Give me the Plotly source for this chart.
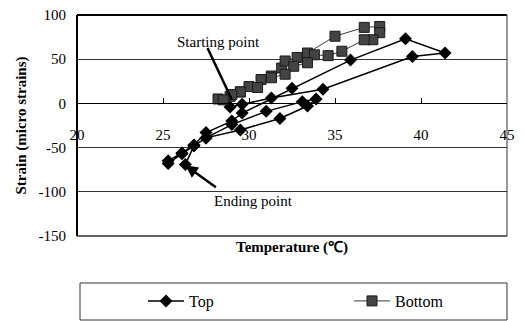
import plotly.graph_objects as go

# ---- data ----
top_temp = [28.9, 29.6, 31.3, 34.3, 39.5, 41.4, 39.1, 35.9, 32.5, 29.6, 29.0, 27.5, 26.8, 26.1, 25.3,
            25.3, 26.1, 26.8, 27.5, 29.0, 31.0, 33.1, 33.9, 33.4, 31.8, 29.5, 27.5, 26.8, 26.3]
top_strain = [-4, -1, 6, 16, 53, 57, 73, 49, 17, -11, -20, -33, -47, -56, -65,
              -68, -57, -48, -39, -24, -9, 2, 5, -3, -17, -30, -39, -48, -69]

bot_temp = [28.2, 28.9, 29.5, 30.0, 30.7, 31.3, 31.9, 32.1, 32.8, 33.4, 35.0, 36.7, 37.6,
            37.6, 37.2, 36.7, 35.4, 34.6, 33.8, 33.4, 32.6, 32.1, 31.3, 30.5, 29.5, 29.0, 28.5]
bot_strain = [5, 8, 13, 19, 27, 31, 40, 48, 52, 57, 76, 86, 87,
              80, 72, 72, 59, 54, 55, 46, 42, 33, 29, 18, 13, 10, 4]

x_ticks = [20, 25, 30, 35, 40, 45]
y_ticks = [-150, -100, -50, 0, 50, 100]

FONT = "Liberation Serif"

fig = go.Figure()
fig.add_trace(go.Scatter(
    x=top_temp, y=top_strain, name="Top", mode="lines+markers",
    line=dict(color="black", width=1.5),
    marker=dict(symbol="diamond", size=10, color="black"),
    legend="legend",
))
fig.add_trace(go.Scatter(
    x=bot_temp, y=bot_strain, name="Bottom", mode="lines+markers",
    line=dict(color="#3a3a3a", width=1),
    marker=dict(symbol="square", size=10, color="#444444", line=dict(color="#1a1a1a", width=1)),
    legend="legend2",
))

ann = []
# arrows
ann.append(dict(x=29.0, y=4.5, xref="x", yref="y", ax=-25, ay=-53, text="",
                showarrow=True, arrowhead=0, arrowwidth=2.5, arrowcolor="black"))
ann.append(dict(x=26.3, y=-70, xref="x", yref="y", ax=32, ay=23, text="",
                showarrow=True, arrowhead=2, arrowsize=1, arrowwidth=2.5, arrowcolor="black"))
ann.append(dict(x=20 + (218 - 77) / 17.2, y=(104 - 43) / 0.884, xref="x", yref="y",
                text="Starting point", showarrow=False,
                font=dict(family=FONT, size=15, color="black")))
ann.append(dict(x=20 + (253 - 77) / 17.2, y=(104 - 202) / 0.884, xref="x", yref="y",
                text="Ending point", showarrow=False,
                font=dict(family=FONT, size=15, color="black")))
ann.append(dict(x=0.5, y=(236 - 258) / 221, xref="paper", yref="paper",
                text="<b>Temperature (℃)</b>", showarrow=False,
                font=dict(family=FONT, size=15, color="black")))

shapes = [
    # plot frame
    dict(type="line", xref="paper", yref="paper", x0=0, x1=1, y0=1, y1=1, line=dict(color="black", width=2)),
    dict(type="line", xref="paper", yref="paper", x0=0, x1=0, y0=0, y1=1, line=dict(color="black", width=2)),
    dict(type="line", xref="paper", yref="paper", x0=1, x1=1, y0=0, y1=1, line=dict(color="#333333", width=1)),
    dict(type="line", xref="paper", yref="paper", x0=0, x1=1, y0=0, y1=0, line=dict(color="#333333", width=1.5)),
    # legend box
    dict(type="rect", xref="paper", yref="paper", x0=(80 - 77) / 430, x1=1.0,
         y0=(236 - 320) / 221, y1=(236 - 283) / 221, line=dict(color="#333333", width=1)),
]

leg_common = dict(orientation="h", xanchor="left", y=(236 - 301) / 221, yanchor="middle",
                  itemwidth=36, borderwidth=0, bgcolor="rgba(0,0,0,0)",
                  font=dict(family=FONT, size=16, color="black"))

fig.update_layout(
    width=525, height=321,
    margin=dict(l=77, r=18, t=15, b=85, autoexpand=False),
    paper_bgcolor="white", plot_bgcolor="white",
    font=dict(family=FONT, size=15, color="black"),
    showlegend=True,
    legend=dict(x=(143 - 77) / 430, **leg_common),
    legend2=dict(x=(349 - 77) / 430, **leg_common),
    xaxis=dict(range=[20, 45], tickvals=x_ticks, ticktext=[str(v) for v in x_ticks],
               anchor="free", position=0.6, showgrid=False, zeroline=False,
               showline=True, linecolor="black", linewidth=1,
               ticks="inside", ticklen=5, tickcolor="black",
               ticklabelstandoff=18, tickfont=dict(family=FONT, size=15)),
    yaxis=dict(range=[-150, 100], tickvals=y_ticks, ticktext=[str(v) for v in y_ticks],
               showgrid=True, gridcolor="#333333", gridwidth=1, zeroline=False,
               showline=False, ticks="", ticklabelstandoff=10,
               tickfont=dict(family=FONT, size=15),
               title=dict(text="<b>Strain (micro strains)</b>", standoff=8,
                          font=dict(family=FONT, size=15))),
    annotations=ann, shapes=shapes,
)

fig.write_html("out.html")
